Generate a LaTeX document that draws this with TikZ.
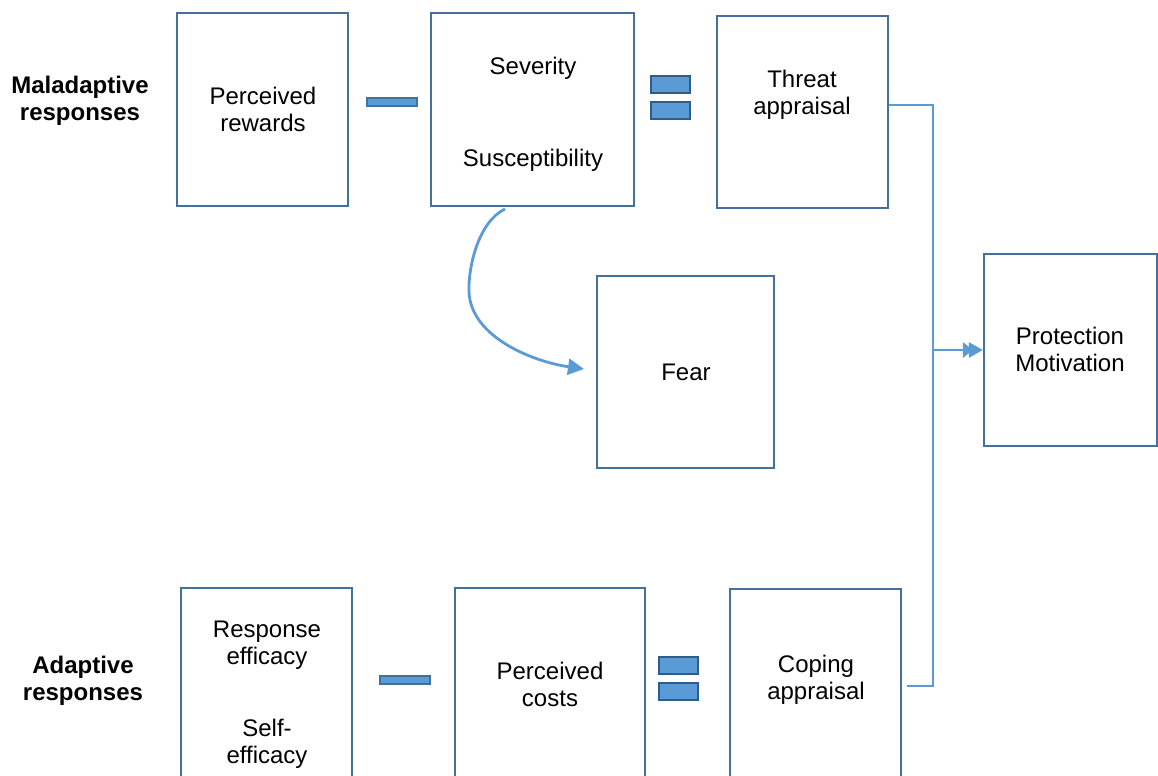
\documentclass[tikz,border=0pt]{standalone}
\usepackage{fontspec}
\setmainfont{Liberation Sans}
\usetikzlibrary{arrows.meta}
\definecolor{boxc}{HTML}{41719C}
\definecolor{linec}{HTML}{5B9BD5}
\definecolor{eqc}{HTML}{2F5C8A}
\begin{document}
\begin{tikzpicture}[x=0.5pt,y=-0.5pt,
  box/.style={draw=boxc,line width=1.1pt,inner sep=0pt,rectangle},
  txt/.style={font=\fontsize{12}{13.5}\selectfont,align=center,inner sep=0pt},
  side/.style={font=\fontsize{12}{13.5}\selectfont\bfseries,align=center,inner sep=0pt},
  conn/.style={draw=linec,line width=1.4pt},
  opbar/.style={fill=linec,draw=boxc,line width=0.75pt,inner sep=0pt,minimum width=25pt,minimum height=4pt},
  eqbar/.style={fill=linec,draw=eqc,line width=1pt,inner sep=0pt,minimum width=19.5pt,minimum height=8.5pt}]
\clip (0,0) rectangle (1158,776);
\fill[white] (0,0) rectangle (1158,776);
% boxes
\node[box,minimum width=85.5pt,minimum height=96.5pt] (rew) at (262.5,109.5) {};
\node[box,minimum width=101.5pt,minimum height=96.5pt] (sev) at (532.5,109.5) {};
\node[box,minimum width=85.5pt,minimum height=96pt] (thr) at (802.5,112) {};
\node[box,minimum width=88.5pt,minimum height=96pt] (fear) at (685.5,372) {};
\node[box,minimum width=86.5pt,minimum height=96pt] (pm) at (1070.5,350) {};
\node[box,minimum width=85.5pt,minimum height=106pt] (resp) at (266.5,694) {};
\node[box,minimum width=95pt,minimum height=106pt] (cost) at (550,694) {};
\node[box,minimum width=85.5pt,minimum height=105.5pt] (cop) at (815.5,694.5) {};
% texts
\node[side] (mal) at (80,101) {Maladaptive\\responses};
\node[side] (ada) at (83,681) {Adaptive\\responses};
\node[txt] (trew) at (263,109) {Perceived\\rewards};
\node[txt] (tsev) at (533,68) {Severity};
\node[txt] (tsus) at (533,160) {Susceptibility};
\node[txt] (tthr) at (802,95) {Threat\\appraisal};
\node[txt] (tfear) at (686,372) {Fear};
\node[txt] (tpm) at (1070,349) {Protection\\Motivation};
\node[txt] (tresp) at (267,645) {Response\\efficacy};
\node[txt] (tself) at (267,744) {Self-\\efficacy};
\node[txt] (tcost) at (550,684) {Perceived\\costs};
\node[txt] (tcop) at (816,680) {Coping\\appraisal};
% operators
\node[opbar] (m1) at (392,102) {};
\node[opbar] (m2) at (405,680) {};
\node[eqbar] (e1a) at (670.5,84.5) {};
\node[eqbar] (e1b) at (670.5,110.5) {};
\node[eqbar] (e2a) at (678.5,665.5) {};
\node[eqbar] (e2b) at (678.5,691.5) {};
% connectors
\coordinate (jt) at (933,105);
\coordinate (jm) at (933,350);
\coordinate (jb) at (933,686);
\coordinate (cb) at (907,686);
\draw[conn] (thr.east|-jt) -- (jt) -- (jb) -- (cb);
\draw[conn,-{Triangle[length=5pt,width=7.5pt,sep=-2pt]Triangle[length=7pt,width=7.5pt]}] (jm) -- (pm.west|-jm);
\coordinate (cs) at (505,209);
\coordinate (ce) at (584,369);
\draw[conn,-{Triangle[length=8pt,width=8pt]}] (cs) .. controls (478,222) and (468,268) .. (469,292) .. controls (471,338) and (535,362) .. (ce);
\end{tikzpicture}
\end{document}
